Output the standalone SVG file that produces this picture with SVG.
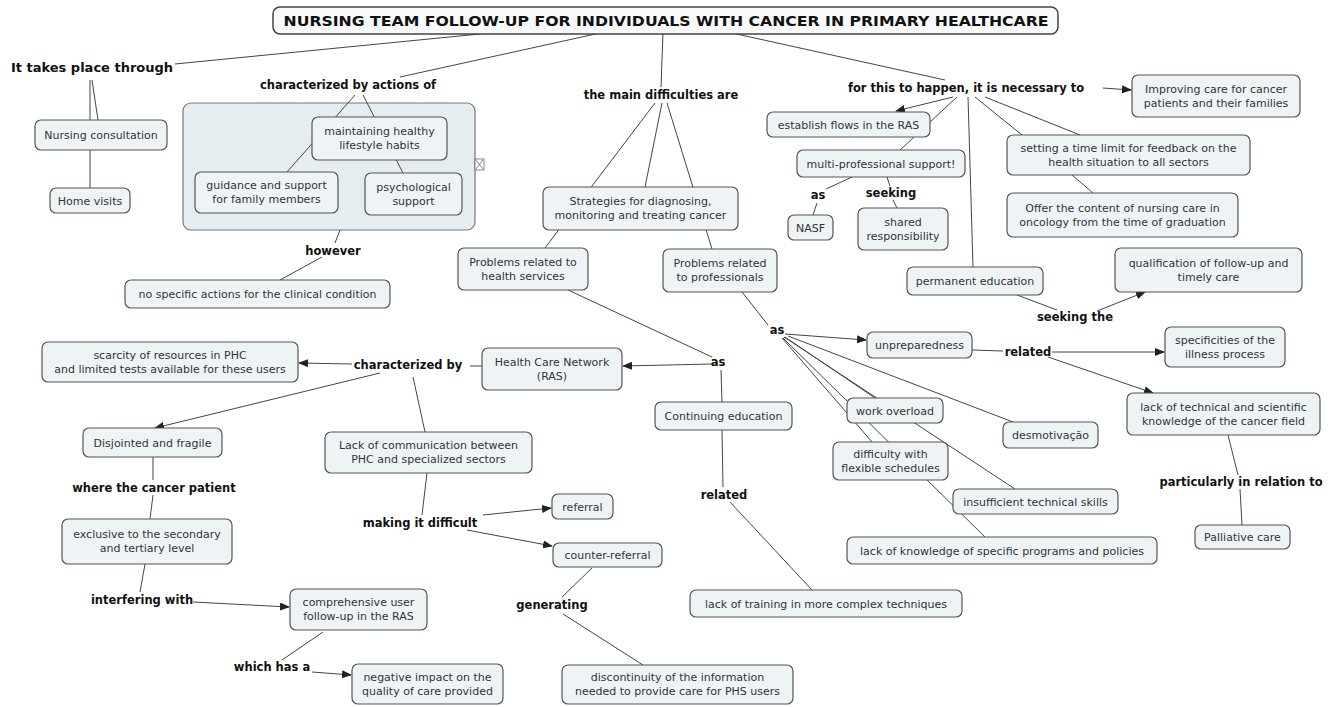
<svg xmlns="http://www.w3.org/2000/svg" width="1330" height="707" viewBox="0 0 1330 707">
<style>
.c rect{fill:#eef3f6;stroke:#555;stroke-width:1.2}
.t{font-family:"DejaVu Sans",Verdana,sans-serif;font-size:11px;fill:#333;text-anchor:middle}
.l{font-family:"DejaVu Sans",Verdana,sans-serif;font-size:11.5px;font-weight:bold;fill:#111;text-anchor:middle}
#connectors line{stroke:#444;stroke-width:1}
#connectors line.a{marker-end:url(#ah)}
</style>
<defs>
<marker id="ah" markerWidth="10" markerHeight="8" refX="9" refY="4" orient="auto" markerUnits="userSpaceOnUse">
<path d="M0,0 L10,4 L0,8 z" fill="#222"/>
</marker>
</defs>
<rect width="1330" height="707" fill="#ffffff"/>

<g id="n-group">
<rect x="183" y="103" width="292" height="127" rx="8" fill="#e6edf1" stroke="#777" stroke-width="1.2"/>
<rect x="475" y="159" width="9" height="11" fill="#fff" stroke="#666" stroke-width="0.8"/>
<path d="M476,160 L483,169 M483,160 L476,169" stroke="#666" stroke-width="0.8"/>
</g>

<g id="connectors">
<line x1="175" y1="64" x2="490" y2="33"/>
<line x1="400" y1="77" x2="600" y2="33"/>
<line x1="90" y1="80" x2="90" y2="188"/>
<line x1="92" y1="80" x2="98" y2="120"/>
<line x1="355" y1="95" x2="287" y2="172"/>
<line x1="363" y1="95" x2="403" y2="173"/>
<line x1="340" y1="230" x2="335" y2="243"/>
<line x1="322" y1="257" x2="280" y2="280"/>
<line x1="663" y1="33" x2="661" y2="87"/>
<line x1="655" y1="103" x2="545" y2="248"/>
<line x1="662" y1="103" x2="645" y2="187"/>
<line x1="667" y1="103" x2="712" y2="249"/>
<line x1="732" y1="33" x2="945" y2="80"/>
<line class="a" x1="1103" y1="88" x2="1131" y2="90"/>
<line class="a" x1="953" y1="97" x2="896" y2="111"/>
<line x1="957" y1="97" x2="900" y2="150"/>
<line x1="852" y1="177" x2="826" y2="189"/>
<line x1="817" y1="203" x2="813" y2="215"/>
<line x1="887" y1="177" x2="890" y2="186"/>
<line x1="893" y1="200" x2="897" y2="208"/>
<line x1="968" y1="97" x2="973" y2="267"/>
<line x1="975" y1="97" x2="1022" y2="135"/>
<line x1="985" y1="97" x2="1080" y2="135"/>
<line x1="1072" y1="175" x2="1093" y2="193"/>
<line x1="1017" y1="295" x2="1057" y2="310"/>
<line class="a" x1="1097" y1="311" x2="1145" y2="292"/>
<line x1="742" y1="292" x2="768" y2="325"/>
<line class="a" x1="785" y1="334" x2="866" y2="340"/>
<line x1="785" y1="337" x2="875" y2="398"/>
<line x1="782" y1="338" x2="872" y2="442"/>
<line x1="783" y1="338" x2="985" y2="537"/>
<line x1="784" y1="337" x2="1015" y2="489"/>
<line x1="788" y1="336" x2="1013" y2="422"/>
<line x1="972" y1="350" x2="1003" y2="351"/>
<line class="a" x1="1052" y1="352" x2="1164" y2="352"/>
<line class="a" x1="1048" y1="357" x2="1153" y2="393"/>
<line x1="1228" y1="435" x2="1238" y2="475"/>
<line x1="1240" y1="489" x2="1242" y2="525"/>
<line x1="568" y1="290" x2="712" y2="357"/>
<line class="a" x1="712" y1="364" x2="623" y2="366"/>
<line x1="721" y1="370" x2="722" y2="402"/>
<line x1="722" y1="430" x2="723" y2="487"/>
<line x1="730" y1="502" x2="812" y2="590"/>
<line x1="482" y1="366" x2="470" y2="366"/>
<line class="a" x1="352" y1="364" x2="299" y2="363"/>
<line class="a" x1="380" y1="373" x2="155" y2="428"/>
<line x1="413" y1="377" x2="425" y2="432"/>
<line x1="153" y1="457" x2="153" y2="480"/>
<line x1="153" y1="495" x2="150" y2="519"/>
<line x1="145" y1="564" x2="140" y2="592"/>
<line class="a" x1="193" y1="602" x2="289" y2="607"/>
<line x1="323" y1="632" x2="282" y2="660"/>
<line class="a" x1="312" y1="672" x2="351" y2="675"/>
<line x1="427" y1="473" x2="422" y2="515"/>
<line class="a" x1="483" y1="515" x2="551" y2="508"/>
<line class="a" x1="467" y1="530" x2="552" y2="546"/>
<line x1="592" y1="568" x2="562" y2="597"/>
<line x1="563" y1="614" x2="643" y2="665"/>
</g>

<g id="n-title">
<rect x="273" y="7" width="785" height="27" rx="7" fill="#f7f9fa" stroke="#444" stroke-width="1.5"/>
<text x="666" y="25.5" font-family="DejaVu Sans,Verdana,sans-serif" font-size="14px" font-weight="bold" fill="#111" text-anchor="middle" textLength="765" lengthAdjust="spacingAndGlyphs">NURSING TEAM FOLLOW-UP FOR INDIVIDUALS WITH CANCER IN PRIMARY HEALTHCARE</text>
</g>

<g id="lp1"><text class="l" x="92" y="72" style="font-size:13px">It takes place through</text></g>
<g id="lp2"><text class="l" x="348" y="89">characterized by actions of</text></g>
<g id="lp3"><text class="l" x="333" y="255">however</text></g>
<g id="lp4"><text class="l" x="661" y="99">the main difficulties are</text></g>
<g id="lp5"><text class="l" x="966" y="92">for this to happen, it is necessary to</text></g>
<g id="lp6"><text class="l" x="818" y="199">as</text></g>
<g id="lp7"><text class="l" x="891" y="197">seeking</text></g>
<g id="lp8"><text class="l" x="1075" y="321">seeking the</text></g>
<g id="lp9"><text class="l" x="777" y="334">as</text></g>
<g id="lp10"><text class="l" x="1028" y="356">related</text></g>
<g id="lp11"><text class="l" x="1241" y="486">particularly in relation to</text></g>
<g id="lp12"><text class="l" x="718" y="366">as</text></g>
<g id="lp13"><text class="l" x="724" y="499">related</text></g>
<g id="lp14"><text class="l" x="408" y="369">characterized by</text></g>
<g id="lp15"><text class="l" x="154" y="492">where the cancer patient</text></g>
<g id="lp16"><text class="l" x="142" y="604">interfering with</text></g>
<g id="lp17"><text class="l" x="272" y="671">which has a</text></g>
<g id="lp18"><text class="l" x="420" y="527">making it difficult</text></g>
<g id="lp19"><text class="l" x="552" y="609">generating</text></g>

<g id="n-nursing" class="c"><rect x="35" y="120" width="132" height="30" rx="6"/><text class="t" x="101" y="139">Nursing consultation</text></g>
<g id="n-home" class="c"><rect x="50" y="188" width="80" height="25" rx="6"/><text class="t" x="90" y="204.5">Home visits</text></g>
<g id="n-maintaining" class="c"><rect x="312" y="117" width="135" height="43" rx="6"/><text class="t" x="379.5" y="135">maintaining healthy</text><text class="t" x="379.5" y="149">lifestyle habits</text></g>
<g id="n-guidance" class="c"><rect x="195" y="172" width="143" height="41" rx="6"/><text class="t" x="266.5" y="189">guidance and support</text><text class="t" x="266.5" y="203">for family members</text></g>
<g id="n-psych" class="c"><rect x="365" y="173" width="97" height="42" rx="6"/><text class="t" x="413.5" y="190.5">psychological</text><text class="t" x="413.5" y="204.5">support</text></g>
<g id="n-nospecific" class="c"><rect x="125" y="280" width="265" height="28" rx="6"/><text class="t" x="257.5" y="298">no specific actions for the clinical condition</text></g>
<g id="n-strategies" class="c"><rect x="543" y="187" width="195" height="43" rx="6"/><text class="t" x="640.5" y="205">Strategies for diagnosing,</text><text class="t" x="640.5" y="219">monitoring and treating cancer</text></g>
<g id="n-healthserv" class="c"><rect x="458" y="248" width="130" height="42" rx="6"/><text class="t" x="523" y="265.5">Problems related to</text><text class="t" x="523" y="279.5">health services</text></g>
<g id="n-prof" class="c"><rect x="663" y="249" width="114" height="43" rx="6"/><text class="t" x="720" y="267">Problems related</text><text class="t" x="720" y="281">to professionals</text></g>
<g id="n-improving" class="c"><rect x="1132" y="75" width="168" height="42" rx="6"/><text class="t" x="1216" y="92.5">Improving care for cancer</text><text class="t" x="1216" y="106.5">patients and their families</text></g>
<g id="n-establish" class="c"><rect x="767" y="112" width="163" height="25" rx="6"/><text class="t" x="848.5" y="128.5">establish flows in the RAS</text></g>
<g id="n-multi" class="c"><rect x="797" y="150" width="168" height="27" rx="6"/><text class="t" x="881" y="167.5">multi-professional support!</text></g>
<g id="n-nasf" class="c"><rect x="788" y="215" width="45" height="25" rx="6"/><text class="t" x="810.5" y="231.5">NASF</text></g>
<g id="n-shared" class="c"><rect x="858" y="208" width="90" height="42" rx="6"/><text class="t" x="903" y="225.5">shared</text><text class="t" x="903" y="239.5">responsibility</text></g>
<g id="n-setting" class="c"><rect x="1007" y="135" width="243" height="40" rx="6"/><text class="t" x="1128.5" y="151.5">setting a time limit for feedback on the</text><text class="t" x="1128.5" y="165.5">health situation to all sectors</text></g>
<g id="n-offer" class="c"><rect x="1007" y="193" width="231" height="44" rx="6"/><text class="t" x="1122.5" y="211.5">Offer the content of nursing care in</text><text class="t" x="1122.5" y="225.5">oncology from the time of graduation</text></g>
<g id="n-permanent" class="c"><rect x="907" y="267" width="136" height="28" rx="6"/><text class="t" x="975" y="285">permanent education</text></g>
<g id="n-qualification" class="c"><rect x="1115" y="248" width="187" height="44" rx="6"/><text class="t" x="1208.5" y="266.5">qualification of follow-up and</text><text class="t" x="1208.5" y="280.5">timely care</text></g>
<g id="n-unprep" class="c"><rect x="867" y="332" width="105" height="26" rx="6"/><text class="t" x="919.5" y="349">unpreparedness</text></g>
<g id="n-specific" class="c"><rect x="1165" y="327" width="120" height="40" rx="6"/><text class="t" x="1225" y="343.5">specificities of the</text><text class="t" x="1225" y="357.5">illness process</text></g>
<g id="n-lacktech" class="c"><rect x="1127" y="393" width="193" height="42" rx="6"/><text class="t" x="1223.5" y="410.5">lack of technical and scientific</text><text class="t" x="1223.5" y="424.5">knowledge of the cancer field</text></g>
<g id="n-overload" class="c"><rect x="847" y="398" width="96" height="25" rx="6"/><text class="t" x="895" y="414.5">work overload</text></g>
<g id="n-difficulty" class="c"><rect x="833" y="442" width="115" height="38" rx="6"/><text class="t" x="890.5" y="457.5">difficulty with</text><text class="t" x="890.5" y="471.5">flexible schedules</text></g>
<g id="n-desmot" class="c"><rect x="1003" y="422" width="95" height="26" rx="6"/><text class="t" x="1050.5" y="439">desmotivação</text></g>
<g id="n-insufficient" class="c"><rect x="953" y="489" width="165" height="25" rx="6"/><text class="t" x="1035.5" y="505.5">insufficient technical skills</text></g>
<g id="n-lackknow" class="c"><rect x="847" y="537" width="310" height="27" rx="6"/><text class="t" x="1002" y="554.5">lack of knowledge of specific programs and policies</text></g>
<g id="n-palliative" class="c"><rect x="1195" y="525" width="95" height="24" rx="6"/><text class="t" x="1242.5" y="541">Palliative care</text></g>
<g id="n-hcn" class="c"><rect x="482" y="348" width="140" height="42" rx="6"/><text class="t" x="552" y="365.5">Health Care Network</text><text class="t" x="552" y="379.5">(RAS)</text></g>
<g id="n-continuing" class="c"><rect x="655" y="402" width="137" height="28" rx="6"/><text class="t" x="723.5" y="420">Continuing education</text></g>
<g id="n-lacktrain" class="c"><rect x="690" y="590" width="272" height="27" rx="6"/><text class="t" x="826" y="607.5">lack of training in more complex techniques</text></g>
<g id="n-scarcity" class="c"><rect x="42" y="342" width="256" height="40" rx="6"/><text class="t" x="170" y="358.5">scarcity of resources in PHC</text><text class="t" x="170" y="372.5">and limited tests available for these users</text></g>
<g id="n-disjointed" class="c"><rect x="83" y="428" width="139" height="29" rx="6"/><text class="t" x="152.5" y="446.5">Disjointed and fragile</text></g>
<g id="n-lackcomm" class="c"><rect x="325" y="432" width="207" height="41" rx="6"/><text class="t" x="428.5" y="449">Lack of communication between</text><text class="t" x="428.5" y="463">PHC and specialized sectors</text></g>
<g id="n-exclusive" class="c"><rect x="62" y="519" width="170" height="45" rx="6"/><text class="t" x="147" y="538">exclusive to the secondary</text><text class="t" x="147" y="552">and tertiary level</text></g>
<g id="n-comprehensive" class="c"><rect x="290" y="589" width="137" height="41" rx="6"/><text class="t" x="358.5" y="606">comprehensive user</text><text class="t" x="358.5" y="620">follow-up in the RAS</text></g>
<g id="n-negative" class="c"><rect x="352" y="664" width="151" height="40" rx="6"/><text class="t" x="427.5" y="680.5">negative impact on the</text><text class="t" x="427.5" y="694.5">quality of care provided</text></g>
<g id="n-referral" class="c"><rect x="552" y="494" width="61" height="25" rx="6"/><text class="t" x="582.5" y="510.5">referral</text></g>
<g id="n-counter" class="c"><rect x="553" y="543" width="109" height="24" rx="6"/><text class="t" x="607.5" y="559">counter-referral</text></g>
<g id="n-discontinuity" class="c"><rect x="562" y="665" width="231" height="39" rx="6"/><text class="t" x="677.5" y="681">discontinuity of the information</text><text class="t" x="677.5" y="695">needed to provide care for PHS users</text></g>
</svg>
